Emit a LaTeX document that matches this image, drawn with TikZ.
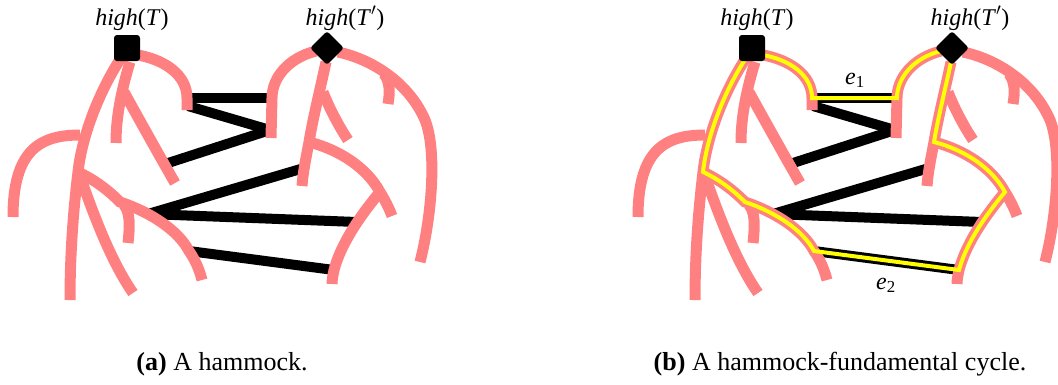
\documentclass[tikz,border=0pt]{standalone}
\usepackage{fontspec}
\setmainfont{Liberation Serif}
\usepackage{graphicx}
\definecolor{salmon}{RGB}{255,128,128}
\definecolor{hyellow}{RGB}{255,255,0}
\tikzset{
  tree/.style={draw=salmon, line width=11pt},
  link/.style={draw=black, line width=10pt},
  cyc/.style={draw=hyellow, line width=4pt},
  sqnode/.style={rectangle, fill=black, minimum size=26pt, inner sep=0pt, rounded corners=3pt},
  dianode/.style={rectangle, fill=black, minimum size=24pt, inner sep=0pt, rounded corners=3pt, rotate=45},
  lbl/.style={font=\fontsize{24}{28}\selectfont, inner sep=0pt, anchor=base},
  captext/.style={font=\fontsize{26}{30}\selectfont, inner sep=0pt, anchor=base},
}
\newcommand\hamcoords{%
  \coordinate (r) at (127,48);
  \coordinate (rr) at (327,48);
  \coordinate (t0) at (121,58);
  \coordinate (a1) at (78,172);
  \coordinate (t1) at (70,300);
  \coordinate (l0) at (80,135);
  \coordinate (l1) at (13,217);
  \coordinate (m0) at (130,62);
  \coordinate (m1) at (116,143);
  \coordinate (b0) at (124,92);
  \coordinate (b1) at (175,183);
  \coordinate (s0) at (138,55);
  \coordinate (v1) at (187,98);
  \coordinate (s1) at (187,110);
  \coordinate (vb) at (120,202);
  \coordinate (v2) at (189,251);
  \coordinate (c1) at (202,280);
  \coordinate (h0) at (124,205);
  \coordinate (h1) at (128,243);
  \coordinate (d0) at (80,176);
  \coordinate (d1) at (133,293);
  \coordinate (x) at (148,214);
  \coordinate (u0) at (316,51);
  \coordinate (w1) at (272,98);
  \coordinate (u1) at (271,138);
  \coordinate (p0) at (326,62);
  \coordinate (vj) at (309,142);
  \coordinate (p1) at (302,186);
  \coordinate (q0) at (323,92);
  \coordinate (q1) at (348,140);
  \coordinate (g0) at (338,52);
  \coordinate (gk) at (384,74);
  \coordinate (gm) at (425,120);
  \coordinate (g1) at (420,262);
  \coordinate (g2) at (388,104);
  \coordinate (vk) at (380,192);
  \coordinate (k1) at (392,216);
  \coordinate (w2) at (334,270);
  \coordinate (k2) at (332,284);
  \coordinate (y) at (357,222);
  \coordinate (z1) at (188,106);
  \coordinate (z2) at (270,130);
  \coordinate (z3) at (165,164);
  \coordinate (z4) at (304,168);
}
\newcommand\hamlines{%
  % edges between the two trees
  \draw[link] (v1) -- (w1);
  \draw[link] (z1) -- (z2);
  \draw[link] (z2) -- (z3);
  \draw[link] (z4) -- (x);
  \draw[link] (x) -- (y);
  \draw[link] (v2) -- (w2);
  % tree T
  \draw[tree] (t0) .. controls (100,90) and (82,135) .. (a1) .. controls (74,205) and (70,250) .. (t1);
  \draw[tree] (l0) .. controls (40,135) and (13,150) .. (l1);
  \draw[tree] (m0) .. controls (120,95) and (116,120) .. (m1);
  \draw[tree] (b0) .. controls (135,112) and (155,148) .. (b1);
  \draw[tree] (s0) .. controls (165,60) and (187,75) .. (v1) -- (s1);
  \draw[tree] (a1) .. controls (95,180) and (108,190) .. (vb) .. controls (150,212) and (178,230) .. (v2) .. controls (194,258) and (199,268) .. (c1);
  \draw[tree] (h0) .. controls (130,212) and (130,225) .. (h1);
  \draw[tree] (d0) .. controls (92,210) and (110,260) .. (d1);
  % tree T'
  \draw[tree] (u0) .. controls (288,58) and (272,78) .. (w1) -- (u1);
  \draw[tree] (p0) .. controls (320,90) and (313,118) .. (vj) .. controls (306,158) and (303,172) .. (p1);
  \draw[tree] (q0) .. controls (330,110) and (340,128) .. (q1);
  \draw[tree] (g0) .. controls (375,60) and (410,85) .. (gm) .. controls (437,150) and (432,215) .. (g1);
  \draw[tree] (gk) .. controls (390,82) and (390,92) .. (g2);
  \draw[tree] (vj) .. controls (340,150) and (367,168) .. (vk) .. controls (385,200) and (389,208) .. (k1);
  \draw[tree] (vk) .. controls (365,210) and (342,240) .. (w2) .. controls (333,275) and (332,280) .. (k2);
}
\newcommand\hamnodes{%
  \node[sqnode] (nT) at (r) {};
  \node[dianode] (nT2) at (rr) {};
  \node[lbl] (hT) at (132,25) {\textit{high}(\textit{T})};
  \node[lbl] (hT2) at (345,25) {\textit{high}(\textit{T}$'$)};
}
\begin{document}
\begin{tikzpicture}[x=1pt, y=-1pt]
\useasboundingbox (0,0) rectangle (1058,384);
\begin{scope}[name prefix=a-]
  \hamcoords
  \hamlines
  \hamnodes
  \node[captext] (capa) at (222,370) {\textbf{(a)} A hammock.};
\end{scope}
\begin{scope}[xshift=625pt, name prefix=b-]
  \hamcoords
  \hamlines
  \draw[cyc] (r) -- (s0) .. controls (165,60) and (187,75) .. (v1) -- (w1)
    .. controls (272,78) and (288,58) .. (u0) -- (rr) -- (p0)
    .. controls (320,90) and (313,118) .. (vj)
    .. controls (340,150) and (367,168) .. (vk)
    .. controls (365,210) and (342,240) .. (w2) -- (v2)
    .. controls (178,230) and (150,212) .. (vb)
    .. controls (108,190) and (95,180) .. (a1)
    .. controls (82,135) and (100,90) .. (t0) -- cycle;
  \hamnodes
  \node[lbl] (e1) at (230,84) {\textit{e}\textsubscript{1}};
  \node[lbl] (e2) at (261,289) {\textit{e}\textsubscript{2}};
  \node[captext] (capb) at (215,370) {\textbf{(b)} A hammock-fundamental cycle.};
\end{scope}
\end{tikzpicture}
\end{document}
